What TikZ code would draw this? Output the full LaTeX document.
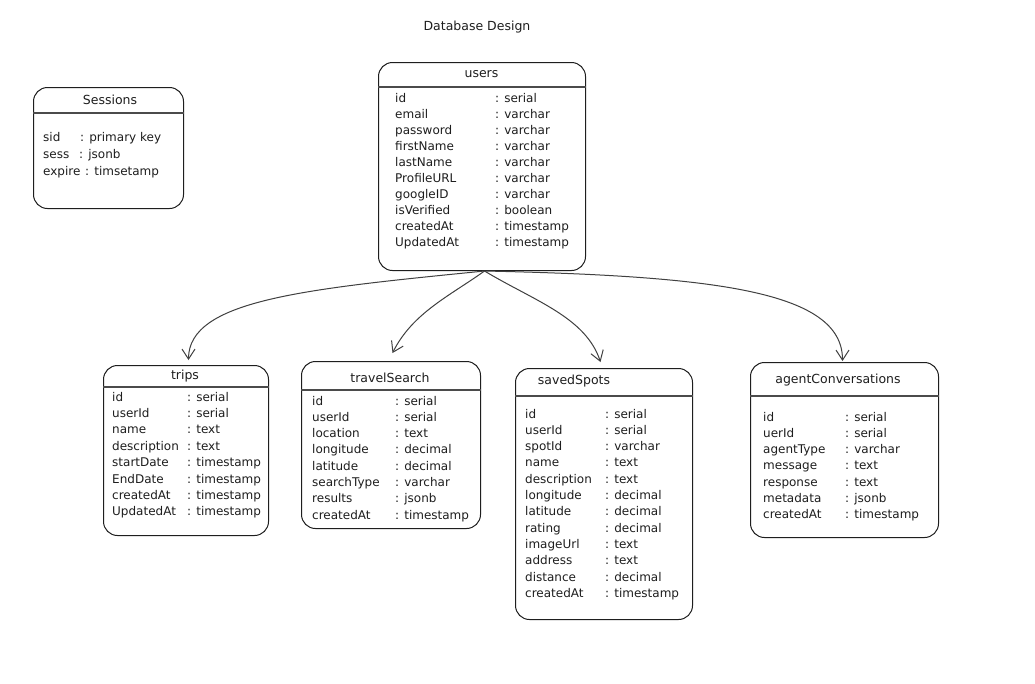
\documentclass[tikz,border=0pt]{standalone}
\usepackage{fontspec}
\setmainfont{DejaVu Sans}
\usetikzlibrary{arrows.meta,calc}
\definecolor{ink}{HTML}{1E1E1E}
\tikzset{
  tbl/.style={draw=ink, line width=1pt, rounded corners=14pt, inner sep=0pt, anchor=north west},
  hdr/.style={draw=ink!80, line width=1.2pt},
  ttl/.style={inner sep=0pt, text=ink, font=\fontsize{12.5}{14}\selectfont},
  fld/.style={anchor=west, inner sep=0pt, text height=9pt, text depth=3pt, text=ink, font=\fontsize{12}{14}\selectfont},
  rel/.style={draw=ink!85, line width=1pt, -{Straight Barb[length=10pt,width=13pt]}}
}
\begin{document}
\begin{tikzpicture}[x=1pt,y=-1pt]
\useasboundingbox[fill=white] (0,0) rectangle (1035,683);

\node[ttl] (title) at (477,27) {Database Design};

% Sessions
\node[tbl, minimum width=150pt, minimum height=121pt] (sess) at (33,87) {};
\node[ttl] (sessT) at (110,100) {Sessions};
\draw[hdr] ($(sess.north west)+(0,26)$) -- ($(sess.north east)+(0,26)$);
\node[fld] (s1n) at (43,138) {sid};
\node[fld] (s1t) at (80,138) {: primary key};
\node[fld] (s2n) at (43,155) {sess};
\node[fld] (s2t) at (79,155) {: jsonb};
\node[fld] (s3n) at (43,172) {expire};
\node[fld] (s3t) at (85,172) {: timsetamp};

% users
\node[tbl, minimum width=207pt, minimum height=208pt] (users) at (378,62) {};
\node[ttl] (usersT) at (481.5,74) {users};
\draw[hdr] ($(users.north west)+(0,25)$) -- ($(users.north east)+(0,25)$);
\foreach \n/\t [count=\i] in {id/serial, email/varchar, password/varchar, firstName/varchar, lastName/varchar, ProfileURL/varchar, googleID/varchar, isVerified/boolean, createdAt/timestamp, UpdatedAt/timestamp}{
  \node[fld] (u\i n) at (395,{99+16.1*(\i-1)}) {\n};
  \node[fld] (u\i t) at (495,{99+16.1*(\i-1)}) {: \t};
}

% trips
\node[tbl, minimum width=165pt, minimum height=170pt] (trips) at (103,365) {};
\node[ttl] (tripsT) at (185,376) {trips};
\draw[hdr] ($(trips.north west)+(0,22)$) -- ($(trips.north east)+(0,22)$);
\foreach \n/\t [count=\i] in {id/serial, userId/serial, name/text, description/text, startDate/timestamp, EndDate/timestamp, createdAt/timestamp, UpdatedAt/timestamp}{
  \node[fld] (t\i n) at (112,{398+16.4*(\i-1)}) {\n};
  \node[fld] (t\i t) at (187,{398+16.4*(\i-1)}) {: \t};
}

% travelSearch
\node[tbl, minimum width=179pt, minimum height=167pt] (travel) at (301,361) {};
\node[ttl] (travelT) at (390,378) {travelSearch};
\draw[hdr] ($(travel.north west)+(0,29)$) -- ($(travel.north east)+(0,29)$);
\foreach \n/\t [count=\i] in {id/serial, userId/serial, location/text, longitude/decimal, latitude/decimal, searchType/varchar, results/jsonb, createdAt/timestamp}{
  \node[fld] (v\i n) at (312,{402+16.3*(\i-1)}) {\n};
  \node[fld] (v\i t) at (395,{402+16.3*(\i-1)}) {: \t};
}

% savedSpots
\node[tbl, minimum width=177pt, minimum height=251pt] (saved) at (515,368) {};
\node[ttl] (savedT) at (574,381) {savedSpots};
\draw[hdr] ($(saved.north west)+(0,28)$) -- ($(saved.north east)+(0,28)$);
\foreach \n/\t [count=\i] in {id/serial, userId/serial, spotId/varchar, name/text, description/text, longitude/decimal, latitude/decimal, rating/decimal, imageUrl/text, address/text, distance/decimal, createdAt/timestamp}{
  \node[fld] (p\i n) at (525,{415+16.3*(\i-1)}) {\n};
  \node[fld] (p\i t) at (605,{415+16.3*(\i-1)}) {: \t};
}

% agentConversations
\node[tbl, minimum width=188pt, minimum height=175pt] (agent) at (750,362) {};
\node[ttl] (agentT) at (838,380) {agentConversations};
\draw[hdr] ($(agent.north west)+(0,34)$) -- ($(agent.north east)+(0,34)$);
\foreach \n/\t [count=\i] in {id/serial, uerId/serial, agentType/varchar, message/text, response/text, metadata/jsonb, createdAt/timestamp}{
  \node[fld] (a\i n) at (763,{418+16.3*(\i-1)}) {\n};
  \node[fld] (a\i t) at (845,{418+16.3*(\i-1)}) {: \t};
}

% relations
\coordinate (src) at ($(users.south)+(2.5,0)$);
\draw[rel] (src) .. controls +(-180,18) and +(0,-60) .. ($(trips.north)+(2.5,-5)$);
\draw[rel] (src) .. controls +(-35,25) and +(20,-40) .. ($(travel.north)+(1.5,-8)$);
\draw[rel] (src) .. controls +(50,30) and +(-15,-45) .. ($(saved.north)+(-3.5,-6)$);
\draw[rel] (src) .. controls +(230,5) and +(0,-70) .. ($(agent.north)+(-2,-1)$);
\end{tikzpicture}
\end{document}
